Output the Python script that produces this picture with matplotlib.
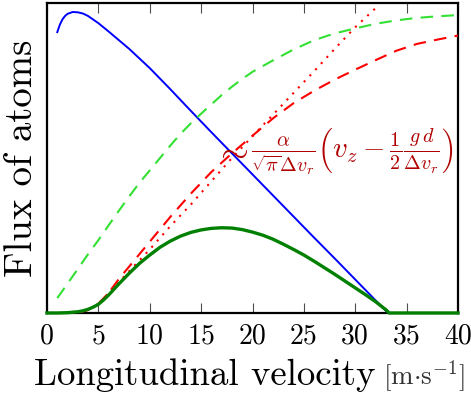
import matplotlib
matplotlib.use("Agg")
import matplotlib.pyplot as plt

plt.rcParams['font.family'] = 'serif'
plt.rcParams['font.serif'] = ['cmr10']
plt.rcParams['mathtext.fontset'] = 'cm'
plt.rcParams['axes.formatter.use_mathtext'] = True

# ---- data ----
x_blue = [1.0, 1.25, 1.5, 1.75, 2.0, 2.5, 3.0, 3.5, 4.0, 5.0, 6.0, 7.0, 8.0,
          10, 12, 14, 16, 18, 20, 22, 24, 26, 28, 30, 32, 33.2]
y_blue = [0.906, 0.93, 0.947, 0.958, 0.965, 0.971, 0.970, 0.966, 0.958, 0.935,
          0.908, 0.88, 0.852, 0.79, 0.722, 0.652, 0.583, 0.515, 0.447, 0.379,
          0.311, 0.243, 0.176, 0.108, 0.040, 0.0]

x_gdash = [1, 2, 3, 4, 5, 6, 7, 8, 9, 10, 11, 12, 13, 14, 15, 16, 17, 18, 19,
           20, 22, 24, 26, 28, 30, 32, 34, 36, 38, 40]
y_gdash = [0.048, 0.095, 0.142, 0.19, 0.235, 0.283, 0.33, 0.376, 0.42, 0.46,
           0.5, 0.54, 0.578, 0.612, 0.643, 0.673, 0.703, 0.73, 0.755, 0.778,
           0.815, 0.85, 0.88, 0.902, 0.918, 0.933, 0.944, 0.952, 0.957, 0.961]

x_rdash = [3, 4, 5, 6, 7, 8, 10, 12, 14, 16, 18, 20, 22, 24, 26, 28, 30, 32,
           34, 36, 38, 40]
y_rdash = [0.0, 0.01, 0.03, 0.065, 0.11, 0.15, 0.23, 0.31, 0.385, 0.455,
           0.515, 0.572, 0.628, 0.677, 0.717, 0.753, 0.785, 0.816, 0.846,
           0.868, 0.882, 0.895]

x_rdot = [3, 4, 5, 6, 7, 8, 10, 12, 14, 16, 18, 20, 22, 24, 26, 28, 30, 32.1]
y_rdot = [0.0, 0.01, 0.03, 0.065, 0.1, 0.135, 0.205, 0.28, 0.35, 0.425, 0.5,
          0.57, 0.64, 0.71, 0.78, 0.852, 0.922, 0.987]

x_flux = [0, 1, 2, 3, 3.5, 4, 4.5, 5, 5.5, 6, 7, 8, 9, 10, 11, 12, 13, 14, 15,
          16, 17, 18, 19, 20, 21, 22, 23, 24, 25, 26, 27, 28, 29, 30, 31, 32,
          33, 33.3, 35, 40]
y_flux = [0, 0, 0.001, 0.004, 0.007, 0.012, 0.019, 0.028, 0.042, 0.058, 0.094,
          0.128, 0.16, 0.187, 0.212, 0.232, 0.248, 0.26, 0.268, 0.273, 0.275,
          0.274, 0.269, 0.261, 0.251, 0.238, 0.222, 0.205, 0.187, 0.167, 0.146,
          0.125, 0.103, 0.081, 0.059, 0.036, 0.01, 0.0, 0.0, 0.0]

x_ticks = [0, 5, 10, 15, 20, 25, 30, 35, 40]
annot_xy = (18.0, 0.515)
formula = r"$\frac{\alpha}{\sqrt{\pi}\Delta v_r}\left(v_z-\frac{1}{2}\frac{g\,d}{\Delta v_r}\right)$"

# ---- figure ----
fig = plt.figure(figsize=(4.71, 3.99), dpi=100)
ax = fig.add_axes([47/471, 86/399, 411/471, 310/399])

ax.plot(x_blue, y_blue, color='#0000ff', lw=1.4, zorder=3)
ax.plot(x_gdash, y_gdash, color='#33e033', lw=1.5, dashes=(6, 4), zorder=3)
ax.plot(x_rdash, y_rdash, color='#ff0000', lw=1.5, dashes=(6, 4), zorder=3)
ax.plot(x_rdot, y_rdot, color='#ff0000', lw=1.5, linestyle=(0, (1, 3)), zorder=3)
ax.plot(x_flux, y_flux, color='#008000', lw=2.4, zorder=4, clip_on=False)

ax.text(annot_xy[0] - 0.1, annot_xy[1] + 0.005, r"$\sim$", color='#b00000',
        fontsize=26, ha='center', va='center', zorder=5)
ax.text(19.9, 0.52, formula, color='#b00000', fontsize=20.7, ha='left', va='center')

ax.set_xlim(0, 40)
ax.set_ylim(0, 1)
ax.set_xticks(x_ticks)
ax.set_xticklabels([str(t) for t in x_ticks])
ax.set_yticks([])
ax.tick_params(axis='x', direction='in', top=True, bottom=True, length=7,
               width=0.8, color='0.3', labelsize=20, pad=7)
for s in ax.spines.values():
    s.set_linewidth(1.6)

fig.text(22/471, 0.5 + (86 + 155 - 399/2) / 399, "Flux of atoms", rotation=90,
         fontsize=28, ha='center', va='center')
fig.text(34/471, 14/399, "Longitudinal velocity", fontsize=26.5, ha='left',
         va='baseline')
fig.text(383/471, 14/399, r"[m$\cdot$s$^{-1}$]", fontsize=19.5, ha='left',
         va='baseline', color='0.2')

fig.savefig("out.png", dpi=100)
